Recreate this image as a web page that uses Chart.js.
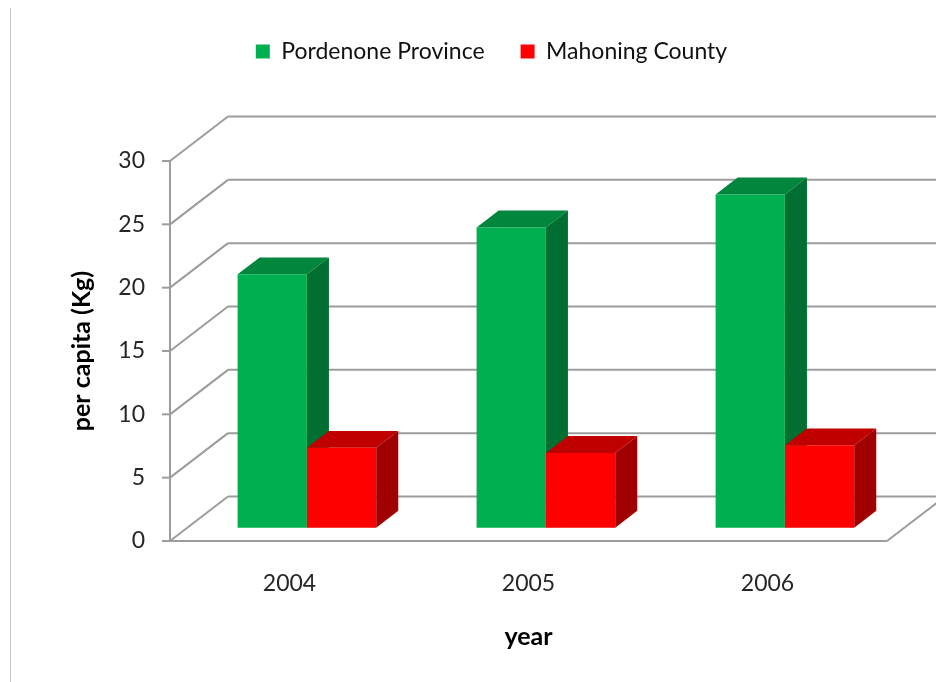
<!DOCTYPE html>
<html>
<head>
<meta charset="utf-8">
<script src="https://cdn.jsdelivr.net/npm/chart.js@4.4.1/dist/chart.umd.min.js"></script>
<style>
  html, body { margin: 0; padding: 0; background: #fff; }
  #wrap { position: relative; width: 936px; height: 682px; overflow: hidden; }
  #wrap canvas { position: absolute; left: 0; top: 0; }
  #edge { position: absolute; left: 10px; top: 8px; bottom: 0; width: 1px; background: #c4c4c4; }
</style>
</head>
<body>
<div id="wrap">
  <canvas id="wasteChart" width="936" height="682"></canvas>
  <div id="edge"></div>
</div>
<script>
const years = ['2004', '2005', '2006'];
const pordenone = [20.0, 23.7, 26.3];
const mahoning = [6.3, 5.9, 6.5];
const yTicks = [0, 5, 10, 15, 20, 25, 30];

// depth of the 3D box (wall offset) and where the bars sit inside it
const WALL_DX = 58;
const WALL_DY = -44.5;
const BAR_FRONT = 0.30;
const BAR_BACK = 0.68;
const GRID_COLOR = '#9c9c9c';

const faces = [
    { front: '#00B050', top: '#00863D', side: '#006F31' },
    { front: '#FF0000', top: '#C00000', side: '#A00000' }
];

function strokeLine(ctx, x1, y1, x2, y2) {
    ctx.beginPath();
    ctx.moveTo(x1, y1);
    ctx.lineTo(x2, y2);
    ctx.stroke();
}

function fillPoly(ctx, color, pts) {
    ctx.fillStyle = color;
    ctx.beginPath();
    ctx.moveTo(pts[0][0], pts[0][1]);
    for (let k = 1; k < pts.length; k++) ctx.lineTo(pts[k][0], pts[k][1]);
    ctx.closePath();
    ctx.fill();
}

const box3d = {
    id: 'box3d',
    beforeInit(chart) {
        // leave room under the legend for the raised back wall
        const fit = chart.legend.fit;
        chart.legend.fit = function () {
            fit.call(this);
            this.height += 88;
        };
    },
    beforeDatasetsDraw(chart) {
        const { ctx, chartArea: area, scales } = chart;
        const yScale = scales.y;
        const y0 = yScale.getPixelForValue(0);
        const yTop = yScale.getPixelForValue(yTicks[yTicks.length - 1]);

        ctx.save();
        ctx.strokeStyle = GRID_COLOR;
        ctx.lineWidth = 2;

        yScale.ticks.forEach(t => {
            const py = yScale.getPixelForValue(t.value);
            strokeLine(ctx, area.left - 8, py, area.left, py);
            strokeLine(ctx, area.left, py, area.left + WALL_DX, py + WALL_DY);
            strokeLine(ctx, area.left + WALL_DX, py + WALL_DY, area.right + WALL_DX, py + WALL_DY);
        });
        strokeLine(ctx, area.left, yTop, area.left, y0);

        // floor front and right edges
        strokeLine(ctx, area.left, y0, area.right, y0);
        strokeLine(ctx, area.right, y0, area.right + WALL_DX, y0 + WALL_DY);

        // boxes, left to right, back series first inside each group
        const offX = WALL_DX * BAR_FRONT;
        const offY = WALL_DY * BAR_FRONT;
        const dx = WALL_DX * (BAR_BACK - BAR_FRONT);
        const dy = WALL_DY * (BAR_BACK - BAR_FRONT);

        years.forEach((_, i) => {
            chart.data.datasets.forEach((ds, d) => {
                const el = chart.getDatasetMeta(d).data[i];
                const p = el.getProps(['x', 'y', 'base', 'width'], true);
                const l = p.x - p.width / 2 + offX;
                const r = p.x + p.width / 2 + offX;
                const t = p.y + offY;
                const b = p.base + offY;
                const c = faces[d];
                fillPoly(ctx, c.top, [[l, t], [r, t], [r + dx, t + dy], [l + dx, t + dy]]);
                fillPoly(ctx, c.side, [[r, t], [r + dx, t + dy], [r + dx, b + dy], [r, b]]);
                fillPoly(ctx, c.front, [[l, t], [r, t], [r, b], [l, b]]);
            });
        });

        ctx.restore();
        return false;
    }
};

Chart.defaults.font.family = 'Lato';
Chart.defaults.color = '#262626';

new Chart(document.getElementById('wasteChart'), {
    type: 'bar',
    data: {
        labels: years,
        datasets: [
            { label: 'Pordenone Province', data: pordenone, backgroundColor: faces[0].front, borderWidth: 0 },
            { label: 'Mahoning County', data: mahoning, backgroundColor: faces[1].front, borderWidth: 0 }
        ]
    },
    options: {
        responsive: false,
        animation: false,
        layout: { padding: { left: 47, right: 0, top: 4, bottom: 0 } },
        datasets: {
            bar: { categoryPercentage: 0.58, barPercentage: 1 }
        },
        plugins: {
            legend: {
                position: 'top',
                labels: {
                    boxWidth: 14,
                    boxHeight: 14,
                    padding: 36,
                    color: '#111',
                    font: { size: 23 }
                }
            },
            tooltip: { enabled: false }
        },
        scales: {
            x: {
                grid: { display: false, drawTicks: false },
                border: { display: false },
                ticks: { padding: 29, font: { size: 23 } },
                title: {
                    display: true,
                    text: 'year',
                    color: '#000',
                    font: { size: 25, weight: 'bold' },
                    padding: { top: 0, bottom: 30 }
                },
                afterFit: (s) => { s.height = 141; }
            },
            y: {
                min: 0,
                max: 30,
                grid: { display: false, drawTicks: false },
                border: { display: false },
                ticks: { padding: 25, font: { size: 23 } },
                afterBuildTicks: (s) => { s.ticks = yTicks.map(v => ({ value: v })); },
                title: {
                    display: true,
                    text: 'per capita (Kg)',
                    color: '#000',
                    font: { size: 25, weight: 'bold' },
                    padding: { top: 20, bottom: 0 }
                },
                afterFit: (s) => { s.width = 123; }
            },
            // empty right-hand strip where the floor and back wall run out
            gap: {
                position: 'right',
                display: true,
                grid: { display: false, drawTicks: false },
                border: { display: false },
                ticks: { display: false },
                afterFit: (s) => { s.width = 49; }
            }
        }
    },
    plugins: [box3d]
});
</script>
</body>
</html>
